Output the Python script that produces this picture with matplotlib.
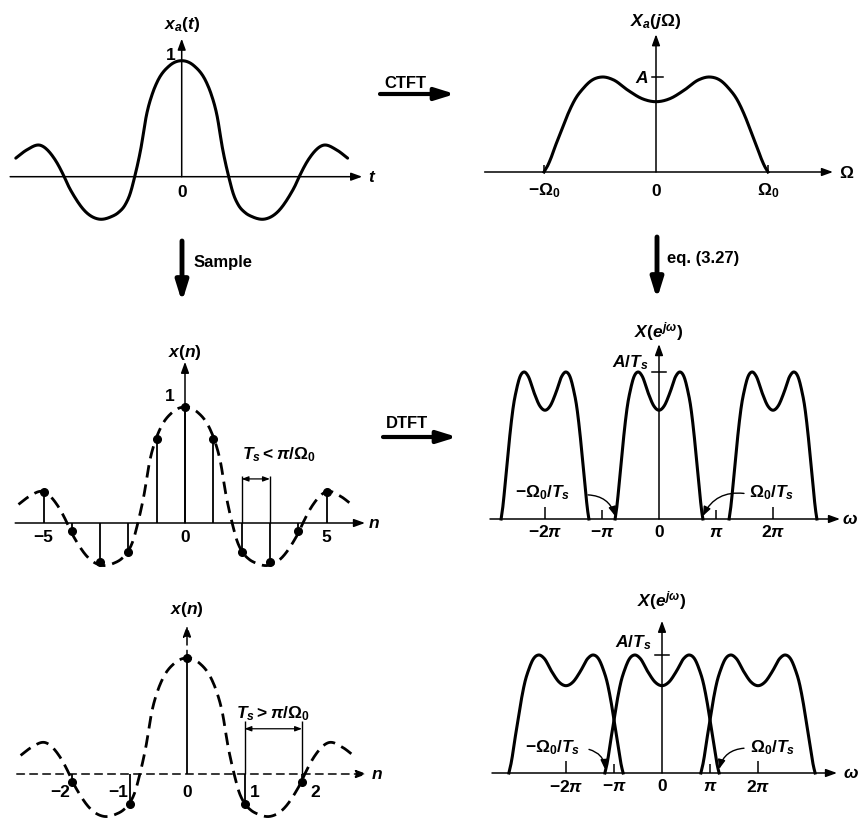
#Sampling: continuous signal, its spectrum, and the sampled versions
import numpy as np
import matplotlib
matplotlib.use('Agg')
import matplotlib.pyplot as plt
from matplotlib.patches import FancyArrowPatch

plt.rcParams['font.family'] = ['Liberation Sans', 'DejaVu Sans']
plt.rcParams['font.weight'] = 'bold'
plt.rcParams['mathtext.fontset'] = 'custom'
plt.rcParams['mathtext.rm'] = 'Liberation Sans:bold'
plt.rcParams['mathtext.it'] = 'Liberation Sans:italic:bold'
plt.rcParams['mathtext.bf'] = 'Liberation Sans:bold'

# x_a(t), right half (t scaled so the first zero is at 1), mirrored below
t_half = [0, 0.26, 0.53, 0.62, 0.75, 0.87, 1.0, 1.1, 1.2, 1.35, 1.5, 1.77,
          2.05, 2.3, 2.41, 2.5, 2.7, 3.0, 3.3, 3.53]
xa_half = [1.0, 0.957, 0.81, 0.72, 0.53, 0.24, 0.0, -0.15, -0.24, -0.31, -0.345, -0.365,
           -0.3, -0.16, -0.08, 0.0, 0.15, 0.27, 0.23, 0.16]

# X_a(jW) right half, W in units of W0, height in units of A
u_half = [0, 0.12, 0.25, 0.38, 0.48, 0.58, 0.65, 0.72, 0.79, 0.85, 0.9, 0.94, 0.97, 1.0]
Xa_half = [0.74, 0.77, 0.86, 0.97, 1.0, 0.96, 0.88, 0.77, 0.6, 0.42, 0.27, 0.14, 0.06, 0.0]

# sampled sequences
n_fast = [-5, -4, -3, -2, -1, 0, 1, 2, 3, 4, 5]
x_fast = [0.27, -0.07, -0.34, -0.25, 0.72, 1.0, 0.72, -0.25, -0.34, -0.07, 0.27]
n_slow = [-2, -1, 0, 1, 2]
x_slow = [-0.07, -0.26, 1.0, -0.26, -0.07]
Ts_fast = 0.60   # sampling period in t units
Ts_slow = 1.22

# spectrum copies: centres and half widths (W0/Ts) in radians
centres = [-2 * np.pi, 0, 2 * np.pi]
hw_fast = 0.77 * np.pi
hw_slow = 1.19 * np.pi

pi_ticks = [-2 * np.pi, -np.pi, np.pi, 2 * np.pi]
pi_labels = [r'$-2\pi$', r'$-\pi$', r'$\pi$', r'$2\pi$']


def mirror(x, y):
    x = np.asarray(x, float); y = np.asarray(y, float)
    return np.concatenate([-x[::-1][:-1], x]), np.concatenate([y[::-1][:-1], y])


def smooth(x, y, k=20):
    # cubic Hermite through the points
    x = np.asarray(x, float); y = np.asarray(y, float)
    h = np.diff(x); d = np.diff(y) / h
    m = np.empty_like(y)
    m[0], m[-1] = d[0], d[-1]
    m[1:-1] = (d[:-1] * h[1:] + d[1:] * h[:-1]) / (h[:-1] + h[1:])
    s = np.linspace(0, 1, k, endpoint=False)
    h00 = 2*s**3 - 3*s**2 + 1; h10 = s**3 - 2*s**2 + s
    h01 = -2*s**3 + 3*s**2; h11 = s**3 - s**2
    xs, ys = [], []
    for i in range(len(h)):
        xs.append(x[i] + s * h[i])
        ys.append(h00*y[i] + h10*h[i]*m[i] + h01*y[i+1] + h11*h[i]*m[i+1])
    xs.append([x[-1]]); ys.append([y[-1]])
    return np.concatenate(xs), np.concatenate(ys)


T, XA = smooth(*mirror(t_half, xa_half))
U, XU = smooth(*mirror(u_half, Xa_half))

W, H = 861, 820
fig = plt.figure(figsize=(W / 100, H / 100), dpi=100)


def panel(ox, oy, sx, sy, box):
    l, t, r, b = box
    ax = fig.add_axes([l / W, 1 - b / H, (r - l) / W, (b - t) / H])
    ax.set_xlim((l - ox) / sx, (r - ox) / sx)
    ax.set_ylim((oy - b) / sy, (oy - t) / sy)
    ax.set_axis_off()
    return ax


AX_ARROW = dict(arrowstyle='-|>,head_length=0.55,head_width=0.2', color='k',
                lw=1.1, mutation_scale=12, shrinkA=0, shrinkB=0)


def axis_arrow(ax, p0, p1, ls='-'):
    st = dict(AX_ARROW, linestyle=ls)
    ax.annotate('', xy=p1, xytext=p0, arrowprops=st, annotation_clip=False)


fs = 12.5
dash = (0, (4.5, 2.5))
axdash = (0, (5, 3.5))

# x_a(t)
ax1 = panel(181.7, 177.7, 47, 116, (0, 0, 420, 240))
axis_arrow(ax1, (-3.65, 0), (3.84, 0))
axis_arrow(ax1, (0, 0), (0, 1.19))
ax1.plot(T, XA, color='k', lw=2.2, solid_capstyle='round')
ax1.text(4.05, 0, '$t$', fontsize=fs, ha='center', va='center')
ax1.text(0, -0.13, '0', fontsize=fs, ha='center', va='center')
ax1.text(-0.24, 1.05, '1', fontsize=fs, ha='center', va='center')
ax1.text(0, 1.32, '$x_a(t)$', fontsize=fs, ha='center', va='center')

# X_a(jW)
ax2 = panel(656, 173, 112, 95, (440, 0, 861, 240))
axis_arrow(ax2, (-1.53, 0), (1.58, 0))
axis_arrow(ax2, (0, 0), (0, 1.45))
ax2.plot(U, XU, color='k', lw=2.2)
ax2.plot([-4 / 112, 7 / 112], [1, 1], color='k', lw=1.1)
ax2.vlines([-1, 1], 0, 0.07, color='k', lw=1.1)
ax2.text(-0.07, 1.0, '$A$', fontsize=fs, ha='right', va='center')
ax2.text(1.70, 0, r'$\Omega$', fontsize=fs, ha='center', va='center')
ax2.text(0, 1.59, r'$X_a(j\Omega)$', fontsize=fs, ha='center', va='center')
for xv, s in zip([-1, 0, 1], [r'$-\Omega_0$', '0', r'$\Omega_0$']):
    ax2.text(xv, -0.19, s, fontsize=fs, ha='center', va='center')

# x(n), Ts < pi/W0
ax3 = panel(185, 524, 28.3, 116, (0, 330, 420, 600))
axis_arrow(ax3, (-6.0, 0), (6.36, 0))
axis_arrow(ax3, (0, 0), (0, 1.39))
ax3.plot(T / Ts_fast, XA, color='k', lw=2.0, linestyle=dash)
ax3.vlines(n_fast, 0, x_fast, color='k', lw=1.3)
ax3.plot(n_fast, x_fast, 'o', color='k', ms=5.5)
ax3.text(6.68, 0, '$n$', fontsize=fs, ha='center', va='center')
ax3.text(0, 1.48, '$x(n)$', fontsize=fs, ha='center', va='center')
ax3.text(-0.55, 1.1, '1', fontsize=fs, ha='center', va='center')
for xv, s in zip([-5, 0, 5], ['\u22125', '0', '5']):
    ax3.text(xv, -0.12, s, fontsize=fs, ha='center', va='center')
ax3.vlines([2, 3], 0, 0.405, color='k', lw=1.0)
ax3.annotate('', xy=(3, 0.38), xytext=(2, 0.38),
             arrowprops=dict(arrowstyle='<|-|>,head_length=0.4,head_width=0.15',
                             color='k', lw=0.9, mutation_scale=10, shrinkA=0, shrinkB=0))
ax3.text(3.3, 0.6, r'$T_s < \pi/\Omega_0$', fontsize=fs, ha='center', va='center')

# x(n), Ts > pi/W0
ax4 = panel(187, 775, 57.5, 116, (0, 590, 420, 820))
axis_arrow(ax4, (-2.96, 0), (3.13, 0), ls=axdash)
axis_arrow(ax4, (0, 1.0), (0, 1.28), ls=axdash)
ax4.plot(T / Ts_slow, XA, color='k', lw=2.0, linestyle=dash)
ax4.vlines(n_slow, 0, x_slow, color='k', lw=1.3)
ax4.plot(n_slow, x_slow, 'o', color='k', ms=5.5)
ax4.text(3.3, 0, '$n$', fontsize=fs, ha='center', va='center')
ax4.text(0, 1.43, '$x(n)$', fontsize=fs, ha='center', va='center')
for xv, s in zip([-2.21, -1.2, 0, 1.18, 2.23], ['\u22122', '\u22121', '0', '1', '2']):
    ax4.text(xv, -0.15, s, fontsize=fs, ha='center', va='center')
ax4.vlines([1, 2], 0, 0.457, color='k', lw=1.0)
ax4.annotate('', xy=(2, 0.39), xytext=(1, 0.39),
             arrowprops=dict(arrowstyle='<|-|>,head_length=0.4,head_width=0.15',
                             color='k', lw=0.9, mutation_scale=10, shrinkA=0, shrinkB=0))
ax4.text(1.5, 0.53, r'$T_s > \pi/\Omega_0$', fontsize=fs, ha='center', va='center')


def spectrum(ax, ox, sx, sy, hw, x0, x_end, x_lab, ymax, ylab, atlab_x, atlab_y, lab_y,
             ann_y, ann_l, ann_r):
    axis_arrow(ax, ((x0 - ox) / sx, 0), ((x_end - ox) / sx, 0))
    axis_arrow(ax, (0, 0), (0, ymax))
    for c in centres:
        ax.plot(c + U * hw, XU, color='k', lw=2.2)
    ax.plot([-7 / sx, 7 / sx], [1, 1], color='k', lw=1.1)
    for v in pi_ticks:
        ax.vlines(v, 0, (12 if abs(v) > 4 else 9) / sy, color='k', lw=1.1)
    for v, s in zip(pi_ticks + [0], pi_labels + ['0']):
        ax.text(v, lab_y, s, fontsize=fs, ha='center', va='center')
    ax.text((x_lab - ox) / sx, 0, r'$\omega$', fontsize=fs, ha='center', va='center')
    ax.text(0, ylab, r'$X(e^{j\omega})$', fontsize=fs, ha='center', va='center')
    ax.text((atlab_x - ox) / sx, atlab_y, r'$A/T_s$', fontsize=fs, ha='center', va='center')
    arr = dict(arrowstyle='-|>,head_length=0.5,head_width=0.2', color='k', lw=1.0,
               mutation_scale=11, shrinkA=0, shrinkB=0)
    (tx, txe), py = ann_l
    ax.text((tx - ox) / sx, ann_y, r'$-\Omega_0/T_s$', fontsize=fs, ha='center', va='center')
    ax.annotate('', xy=(-hw, py / sy), xytext=((txe - ox) / sx, ann_y - 0.02),
                arrowprops=dict(arr, connectionstyle='arc3,rad=-0.35'))
    (tx, txe), py = ann_r
    ax.text((tx - ox) / sx, ann_y, r'$\Omega_0/T_s$', fontsize=fs, ha='center', va='center')
    ax.annotate('', xy=(hw, py / sy), xytext=((txe - ox) / sx, ann_y - 0.01),
                arrowprops=dict(arr, connectionstyle='arc3,rad=0.35'))


# X(e^jw), no overlap
ox5, sx5, sy5 = 659, 57 / np.pi, 147
ax5 = panel(ox5, 520, sx5, sy5, (470, 320, 861, 580))
spectrum(ax5, ox5, sx5, sy5, hw_fast, 490, 840, 850, 1.19, 1.28, 630, 1.07, -0.082,
         0.184, ((543, 588), 3), ((772, 744), 3))

# X(e^jw), aliased
ox6, sx6, sy6 = 662, 48 / np.pi, 118
ax6 = panel(ox6, 774, sx6, sy6, (470, 590, 861, 820))
spectrum(ax6, ox6, sx6, sy6, hw_slow, 492, 837, 851, 1.29, 1.47, 633, 1.11, -0.11,
         0.22, ((553, 589), 4), ((773, 744), 4))


# transform arrows between the panels
def big_arrow(p0, p1, lw):
    a = FancyArrowPatch((p0[0] / W, 1 - p0[1] / H), (p1[0] / W, 1 - p1[1] / H),
                        transform=fig.transFigure,
                        arrowstyle='-|>,head_length=0.9,head_width=0.28',
                        mutation_scale=13, lw=lw, color='k', shrinkA=0, shrinkB=0)
    fig.add_artist(a)


def ftext(x, y, s, **kw):
    fig.text(x / W, 1 - y / H, s, fontsize=12, va='center', **kw)


big_arrow((380, 95), (455, 95), 3.0)
ftext(405, 84, 'CTFT', ha='center')
big_arrow((383, 438), (457, 438), 3.0)
ftext(407, 424, 'DTFT', ha='center')
big_arrow((182, 242), (182, 303), 3.5)
ftext(194, 262, 'Sample', ha='left')
big_arrow((657, 238), (657, 300), 3.5)
ftext(667, 259, 'eq. (3.27)', ha='left')

fig.savefig('out.png', dpi=100, facecolor='white')
